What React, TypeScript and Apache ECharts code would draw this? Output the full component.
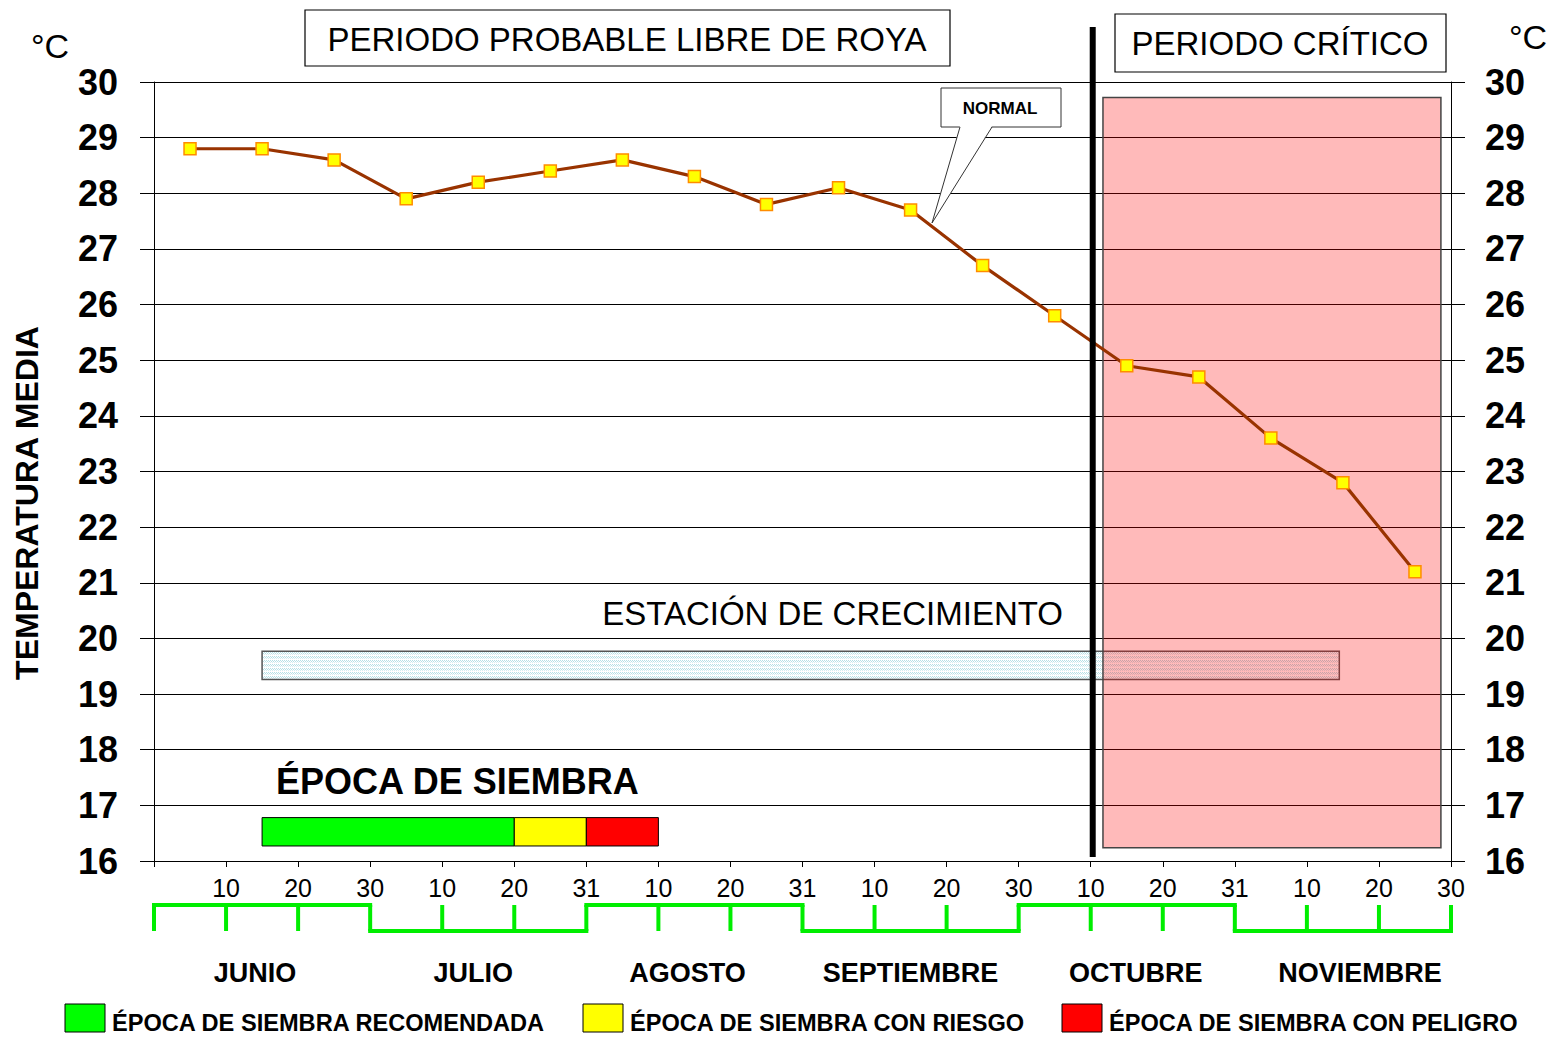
import React, { useEffect, useRef } from "react";
import * as echarts from "echarts";

// ---- data ----
const DEKAD_LABELS = ["", "10", "20", "30", "10", "20", "31", "10", "20", "31", "10", "20", "30", "10", "20", "31", "10", "20", "30"];
const MONTHS = ["JUNIO", "JULIO", "AGOSTO", "SEPTIEMBRE", "OCTUBRE", "NOVIEMBRE"];
const TEMPERATURE = [28.8, 28.8, 28.6, 27.9, 28.2, 28.4, 28.6, 28.3, 27.8, 28.1, 27.7, 26.7, 25.8, 24.9, 24.7, 23.6, 22.8, 21.2];
const Y_MIN = 16;
const Y_MAX = 30;
// growth season (in dekads from 1 June) and its band on the temperature scale
const GROWTH_RANGE = [1.5, 16.45];
const GROWTH_BAND = [19.26, 19.77];
// sowing windows (dekads)
const SOWING_START = [1.5, 5, 6];
const SOWING_END = [5, 6, 7];
const SOWING_BAND = [16.27, 16.78];
const SOWING_NAMES = ["ÉPOCA DE SIEMBRA RECOMENDADA", "ÉPOCA DE SIEMBRA CON RIESGO", "ÉPOCA DE SIEMBRA CON PELIGRO"];
// critical period
const CRITICAL_RANGE = [13.17, 17.86];
const CRITICAL_BAND = [16.24, 29.72];
const ROYA_LIMIT = 13; // 10 de octubre

// layout / style
const SOWING_COLORS = ["#00ff00", "#ffff00", "#ff0000"];
const MONTH_LABEL_DX = [-7, -5, -7, 0, 9, 17];
const FONT = "Liberation Sans, Arial, sans-serif";

function makePattern(): any {
  const c = document.createElement("canvas");
  c.width = 4;
  c.height = 4;
  const ctx = c.getContext("2d");
  if (!ctx) return "#dff1f3";
  ctx.fillStyle = "#ffffff";
  ctx.fillRect(0, 0, 4, 4);
  ctx.fillStyle = "#b6e0e6";
  ctx.fillRect(0, 0, 1, 1);
  ctx.fillRect(2, 0, 1, 1);
  ctx.fillRect(1, 1, 1, 1);
  ctx.fillRect(3, 1, 1, 1);
  ctx.fillStyle = "#d6eef1";
  ctx.fillRect(0, 2, 1, 1);
  ctx.fillRect(2, 2, 1, 1);
  return { image: c, repeat: "repeat" };
}

export default function App() {
  const ref = useRef<HTMLDivElement>(null);

  useEffect(() => {
    document.body.style.margin = "0";
    const chart = echarts.init(ref.current as HTMLDivElement, null, { renderer: "svg" });

    const yAxisCommon = {
      type: "value",
      min: Y_MIN,
      max: Y_MAX,
      interval: 1,
      axisLine: { show: true, lineStyle: { color: "#000", width: 1 } },
      axisTick: { show: true, inside: false, length: 14, lineStyle: { color: "#000", width: 1 } },
      axisLabel: { color: "#000", fontSize: 36, fontWeight: "bold", fontFamily: FONT },
    };

    const option: any = {
      animation: false,
      backgroundColor: "#fff",
      grid: { left: 154, right: 98, top: 82, bottom: 177, containLabel: false },
      xAxis: {
        type: "value",
        min: 0,
        max: 18,
        interval: 1,
        axisLine: { show: true, lineStyle: { color: "#000", width: 1 } },
        axisTick: { show: true, inside: false, length: 6, lineStyle: { color: "#000" } },
        axisLabel: {
          color: "#000",
          fontSize: 25,
          fontFamily: FONT,
          margin: 14,
          formatter: (v: number) => DEKAD_LABELS[Math.round(v)] ?? "",
        },
        splitLine: { show: false },
      },
      yAxis: [
        {
          ...yAxisCommon,
          position: "left",
          axisLabel: { ...yAxisCommon.axisLabel, margin: 36 },
          splitLine: { show: true, lineStyle: { color: "#000", width: 1 } },
        },
        {
          ...yAxisCommon,
          position: "right",
          axisLabel: { ...yAxisCommon.axisLabel, margin: 34 },
          splitLine: { show: false },
        },
      ],
      series: [
        {
          type: "line",
          name: "bands",
          data: [],
          z: 1,
          silent: true,
          markArea: {
            silent: true,
            label: { show: false },
            data: [
              [
                {
                  coord: [GROWTH_RANGE[0], GROWTH_BAND[1]],
                  itemStyle: { color: makePattern(), borderColor: "#555", borderWidth: 1.5 },
                },
                { coord: [GROWTH_RANGE[1], GROWTH_BAND[0]] },
              ],
              ...SOWING_START.map((s, i) => [
                {
                  coord: [s, SOWING_BAND[1]],
                  itemStyle: { color: SOWING_COLORS[i], borderColor: "#000", borderWidth: 1 },
                },
                { coord: [SOWING_END[i], SOWING_BAND[0]] },
              ]),
            ],
          },
        },
        {
          type: "line",
          name: "NORMAL",
          z: 3,
          data: TEMPERATURE.map((v, i) => [i + 0.5, v]),
          lineStyle: { color: "#993300", width: 3.2 },
          symbol: "rect",
          symbolSize: 12,
          showSymbol: true,
          itemStyle: { color: "#ffff00", borderColor: "#ff8c00", borderWidth: 1.5 },
        },
        {
          type: "line",
          name: "critico",
          data: [],
          z: 10,
          silent: true,
          markArea: {
            silent: true,
            label: { show: false },
            itemStyle: { color: "rgba(255,0,0,0.27)", borderColor: "#444", borderWidth: 1.5 },
            data: [
              [
                { coord: [CRITICAL_RANGE[0], CRITICAL_BAND[1]] },
                { coord: [CRITICAL_RANGE[1], CRITICAL_BAND[0]] },
              ],
            ],
          },
        },
      ],
    };

    chart.setOption(option);

    const P = (x: number, y: number) => chart.convertToPixel({ gridIndex: 0 }, [x, y]) as number[];
    const g: any[] = [];
    const textStyle = (extra: any) => ({ fill: "#000", fontFamily: FONT, ...extra });

    // title boxes
    g.push({ type: "rect", shape: { x: 305, y: 10, width: 645, height: 56 }, style: { fill: "#fff", stroke: "#000", lineWidth: 1.2 }, z: 20 });
    g.push({
      type: "text", x: 627, y: 39, z: 21,
      style: textStyle({ text: "PERIODO PROBABLE LIBRE DE ROYA", fontSize: 33, align: "center", verticalAlign: "middle" }),
    });
    g.push({ type: "rect", shape: { x: 1115, y: 14, width: 331, height: 58 }, style: { fill: "#fff", stroke: "#000", lineWidth: 1.2 }, z: 20 });
    g.push({
      type: "text", x: 1280, y: 43, z: 21,
      style: textStyle({ text: "PERIODO CRÍTICO", fontSize: 33, align: "center", verticalAlign: "middle" }),
    });

    // °C
    g.push({ type: "text", x: 50, y: 46, z: 21, style: textStyle({ text: "°C", fontSize: 34, align: "center", verticalAlign: "middle" }) });
    g.push({ type: "text", x: 1528, y: 37, z: 21, style: textStyle({ text: "°C", fontSize: 34, align: "center", verticalAlign: "middle" }) });

    // rotated y title
    g.push({
      type: "text", x: 27, y: 503, rotation: Math.PI / 2, z: 21,
      style: textStyle({ text: "TEMPERATURA MEDIA", fontSize: 32, fontWeight: "bold", align: "center", verticalAlign: "middle" }),
    });

    // vertical limit line
    const lx = P(ROYA_LIMIT, Y_MIN)[0] + 2;
    g.push({ type: "line", shape: { x1: lx, y1: 27, x2: lx, y2: 857 }, style: { stroke: "#000", lineWidth: 6 }, z: 15 });

    // NORMAL callout
    g.push({ type: "rect", shape: { x: 941, y: 88, width: 120, height: 39 }, style: { fill: "#fff", stroke: "#333", lineWidth: 1 }, z: 20 });
    g.push({ type: "polygon", shape: { points: [[960, 126], [932, 223], [992, 126]] }, style: { fill: "#fff", stroke: null }, z: 21 });
    g.push({ type: "polyline", shape: { points: [[960, 127], [932, 223], [992, 127]] }, style: { stroke: "#333", lineWidth: 1, fill: null }, z: 22 });
    g.push({ type: "text", x: 1000, y: 108, z: 23, style: textStyle({ text: "NORMAL", fontSize: 17, fontWeight: "bold", align: "center", verticalAlign: "middle" }) });

    // band labels
    g.push({ type: "text", x: 1063, y: 613, z: 21, style: textStyle({ text: "ESTACIÓN DE CRECIMIENTO", fontSize: 33, align: "right", verticalAlign: "middle" }) });
    g.push({ type: "text", x: 276, y: 781, z: 21, style: textStyle({ text: "ÉPOCA DE SIEMBRA", fontSize: 36, fontWeight: "bold", align: "left", verticalAlign: "middle" }) });

    // month brackets
    const hi = 905;
    const lo = 931;
    const green = "#00ee00";
    MONTHS.forEach((m, i) => {
      const x0 = P(i * 3, Y_MIN)[0];
      const x1 = P(i * 3 + 3, Y_MIN)[0];
      const yy = i % 2 === 0 ? hi : lo;
      g.push({ type: "line", shape: { x1: x0 - 2, y1: yy, x2: x1 + 2, y2: yy }, style: { stroke: green, lineWidth: 4 }, z: 20 });
      const cx = P(i * 3 + 1.5, Y_MIN)[0];
      g.push({ type: "text", x: cx + MONTH_LABEL_DX[i], y: 973, z: 21, style: textStyle({ text: m, fontSize: 27, fontWeight: "bold", align: "center", verticalAlign: "middle" }) });
    });
    for (let k = 0; k <= 18; k++) {
      const x = P(k, Y_MIN)[0];
      g.push({ type: "line", shape: { x1: x, y1: hi, x2: x, y2: lo }, style: { stroke: green, lineWidth: 4 }, z: 20 });
    }

    // legend
    const legendX = [65, 583, 1062];
    SOWING_NAMES.forEach((name, i) => {
      g.push({ type: "rect", shape: { x: legendX[i], y: 1004, width: 40, height: 28 }, style: { fill: SOWING_COLORS[i], stroke: "#000", lineWidth: 1 }, z: 20 });
      g.push({ type: "text", x: legendX[i] + 47, y: 1023, z: 21, style: textStyle({ text: name, fontSize: 23.6, fontWeight: "bold", align: "left", verticalAlign: "middle" }) });
    });

    chart.setOption({ graphic: g });

    return () => chart.dispose();
  }, []);

  return <div ref={ref} style={{ width: 1549, height: 1038 }} />;
}
